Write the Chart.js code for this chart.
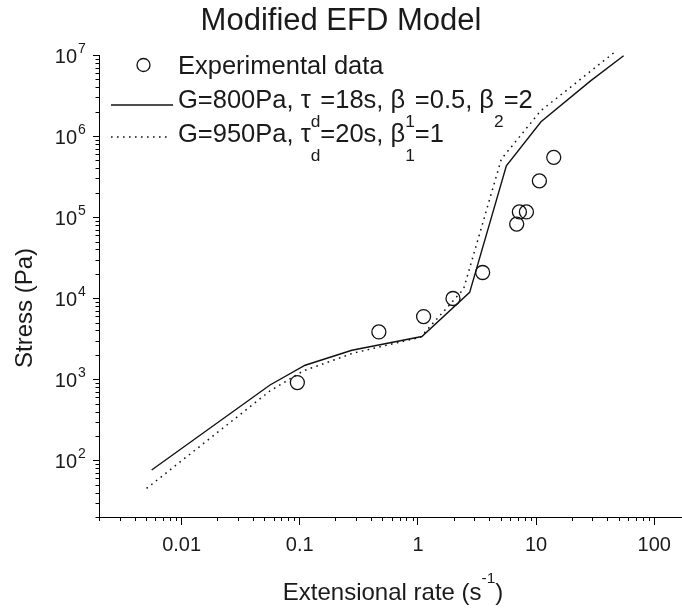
<!DOCTYPE html>
<html>
<head>
<meta charset="utf-8">
<script src="https://cdn.jsdelivr.net/npm/chart.js@4.4.1/dist/chart.umd.min.js"></script>
<style>
  html, body { margin: 0; padding: 0; background: #fff; }
  canvas { display: block; }
</style>
</head>
<body>
<canvas id="efd" width="682" height="610"></canvas>
<script>
  // values
  const expRate   = [0.0954, 0.467, 1.116, 1.98, 3.53, 6.85, 7.22, 8.28, 10.66, 14.1];
  const expStress = [910, 3840, 5940, 9910, 20750, 82000, 116000, 116000, 280000, 546000];

  const fitARate   = [0.00558, 0.056, 0.111, 0.276, 1.08, 2.74, 5.6, 11.0, 28.9, 55];
  const fitAStress = [76, 850, 1490, 2280, 3370, 11800, 430000, 1.5e6, 4.8e6, 9.8e6];

  const fitBRate   = [0.00505, 0.056, 0.107, 0.283, 1.05, 2.43, 5.08, 10.9, 47.5];
  const fitBStress = [45, 718, 1270, 2100, 3300, 12900, 520000, 2.04e6, 1.12e7];

  const xTickLabels = ['0.01', '0.1', '1', '10', '100'];
  const yExponents = [2, 3, 4, 5, 6, 7];

  const FONT = '"Liberation Sans", Arial, Helvetica, sans-serif';
  const INK = '#1a1a1a';

  const pts = (xs, ys) => xs.map((x, i) => ({ x: x, y: ys[i] }));
  const isDecade = v => Math.abs(Math.log10(v) - Math.round(Math.log10(v))) < 1e-6;
  const isStep = v => {
    const e = Math.floor(Math.log10(v) + 1e-9);
    const s = v / Math.pow(10, e);
    return Math.abs(s - Math.round(s)) < 1e-6;
  };

  // text with sub/superscripts; parts are strings or {sub:..}/{sup:..}
  function richText(ctx, x, y, parts, size, draw) {
    let cx = x;
    parts.forEach(p => {
      let txt = p, dy = 0, fs = size;
      if (typeof p !== 'string') {
        if (p.sub !== undefined) { txt = p.sub; fs = size * 0.68; dy = size * 0.76; }
        else { txt = p.sup; fs = size * 0.64; dy = -size * 0.7; }
      }
      ctx.font = fs + 'px ' + FONT;
      if (draw) ctx.fillText(txt, cx, y + dy);
      cx += ctx.measureText(txt).width;
    });
    return cx - x;
  }

  const legendRows = [
    ['Experimental data'],
    ['G=800Pa, \u03c4', { sub: 'd' }, '=18s, \u03b2', { sub: '1' }, '=0.5, \u03b2', { sub: '2' }, '=2'],
    ['G=950Pa, \u03c4', { sub: 'd' }, '=20s, \u03b2', { sub: '1' }, '=1']
  ];

  const extras = {
    id: 'extras',
    afterDraw(chart) {
      const { ctx, chartArea: a } = chart;
      const xs = chart.scales.x, ys = chart.scales.y;
      ctx.save();

      // minor ticks, and the x axis line running on to the edge
      ctx.strokeStyle = '#000';
      ctx.lineWidth = 1;
      ctx.beginPath();
      xs.ticks.forEach(t => {
        if (isDecade(t.value) || !isStep(t.value)) return;
        const px = Math.round(xs.getPixelForValue(t.value)) + 0.5;
        ctx.moveTo(px, a.bottom); ctx.lineTo(px, a.bottom + 4);
      });
      ys.ticks.forEach(t => {
        if (isDecade(t.value) || !isStep(t.value)) return;
        const py = Math.round(ys.getPixelForValue(t.value)) + 0.5;
        ctx.moveTo(a.left, py); ctx.lineTo(a.left - 3.5, py);
      });
      ctx.moveTo(a.right, Math.round(a.bottom) + 0.5);
      ctx.lineTo(chart.width, Math.round(a.bottom) + 0.5);
      ctx.stroke();

      // y tick labels 10^n
      ctx.fillStyle = INK;
      ctx.textBaseline = 'alphabetic';
      yExponents.forEach(e => {
        const py = ys.getPixelForValue(Math.pow(10, e));
        ctx.font = '20px ' + FONT;
        ctx.textAlign = 'right';
        ctx.fillText('10', 77, py + 7.5);
        ctx.font = '14px ' + FONT;
        ctx.textAlign = 'left';
        ctx.fillText(String(e), 78, py - 2);
      });

      // axis titles
      ctx.textAlign = 'left';
      const xt = ['Extensional rate (s', { sup: '-1' }, ')'];
      const w = richText(ctx, 0, 0, xt, 24, false);
      richText(ctx, 393 - w / 2, 600, xt, 24, true);

      ctx.save();
      ctx.translate(32, 308);
      ctx.rotate(-Math.PI / 2);
      ctx.textAlign = 'center';
      ctx.font = '24px ' + FONT;
      ctx.fillText('Stress (Pa)', 0, 0);
      ctx.restore();

      // legend
      ctx.strokeStyle = '#111';
      ctx.lineWidth = 1.3;
      ctx.beginPath();
      ctx.arc(143.5, 65, 6.5, 0, Math.PI * 2);
      ctx.stroke();
      ctx.beginPath();
      ctx.moveTo(111, 105); ctx.lineTo(173, 105);
      ctx.stroke();
      ctx.setLineDash([1.6, 4.4]);
      ctx.lineWidth = 1.5;
      ctx.beginPath();
      ctx.moveTo(111, 137); ctx.lineTo(171, 137);
      ctx.stroke();
      ctx.setLineDash([]);

      const baselines = [74, 108, 142];
      legendRows.forEach((row, i) => richText(ctx, 178, baselines[i], row, 25.5, true));

      ctx.restore();
    }
  };

  new Chart(document.getElementById('efd'), {
    type: 'scatter',
    data: {
      datasets: [
        {
          label: 'Experimental data',
          data: pts(expRate, expStress),
          showLine: false,
          pointStyle: 'circle',
          pointRadius: 7,
          pointBorderWidth: 1.3,
          pointBorderColor: '#111',
          pointBackgroundColor: 'rgba(0,0,0,0)',
          clip: false
        },
        {
          label: 'G=800Pa',
          data: pts(fitARate, fitAStress),
          showLine: true,
          borderColor: '#111',
          borderWidth: 1.4,
          pointRadius: 0,
          tension: 0,
          clip: false
        },
        {
          label: 'G=950Pa',
          data: pts(fitBRate, fitBStress),
          showLine: true,
          borderColor: '#111',
          borderWidth: 1.5,
          borderDash: [1.6, 4.4],
          pointRadius: 0,
          tension: 0,
          clip: false
        }
      ]
    },
    options: {
      responsive: false,
      animation: false,
      layout: { padding: 0 },
      plugins: {
        legend: { display: false },
        tooltip: { enabled: false },
        title: {
          display: true,
          text: 'Modified EFD Model',
          color: INK,
          font: { family: FONT, size: 31, weight: 'normal' },
          padding: { top: 3, bottom: 14.8 }
        }
      },
      scales: {
        x: {
          type: 'logarithmic',
          position: 'bottom',
          min: 0.002,
          max: 146,
          afterFit: s => { s.height = 93; },
          border: { color: '#000', width: 1 },
          grid: {
            drawOnChartArea: false,
            tickLength: 8,
            tickColor: c => (c.tick && isDecade(c.tick.value)) ? '#000' : 'rgba(0,0,0,0)'
          },
          ticks: {
            autoSkip: false,
            maxRotation: 0,
            padding: 8,
            color: INK,
            font: { family: FONT, size: 20 },
            callback: v => {
              if (!isDecade(v)) return '';
              const i = Math.round(Math.log10(v)) + 2;
              return xTickLabels[i] !== undefined ? xTickLabels[i] : '';
            }
          }
        },
        y: {
          type: 'logarithmic',
          position: 'left',
          min: 20,
          max: 1e7,
          afterFit: s => { s.width = 99; },
          border: { color: '#000', width: 1 },
          grid: {
            drawOnChartArea: false,
            tickLength: 6,
            tickColor: c => (c.tick && isDecade(c.tick.value)) ? '#000' : 'rgba(0,0,0,0)'
          },
          ticks: {
            autoSkip: false,
            font: { family: FONT, size: 20 },
            callback: () => ''
          }
        }
      }
    },
    plugins: [extras]
  });
</script>
</body>
</html>
